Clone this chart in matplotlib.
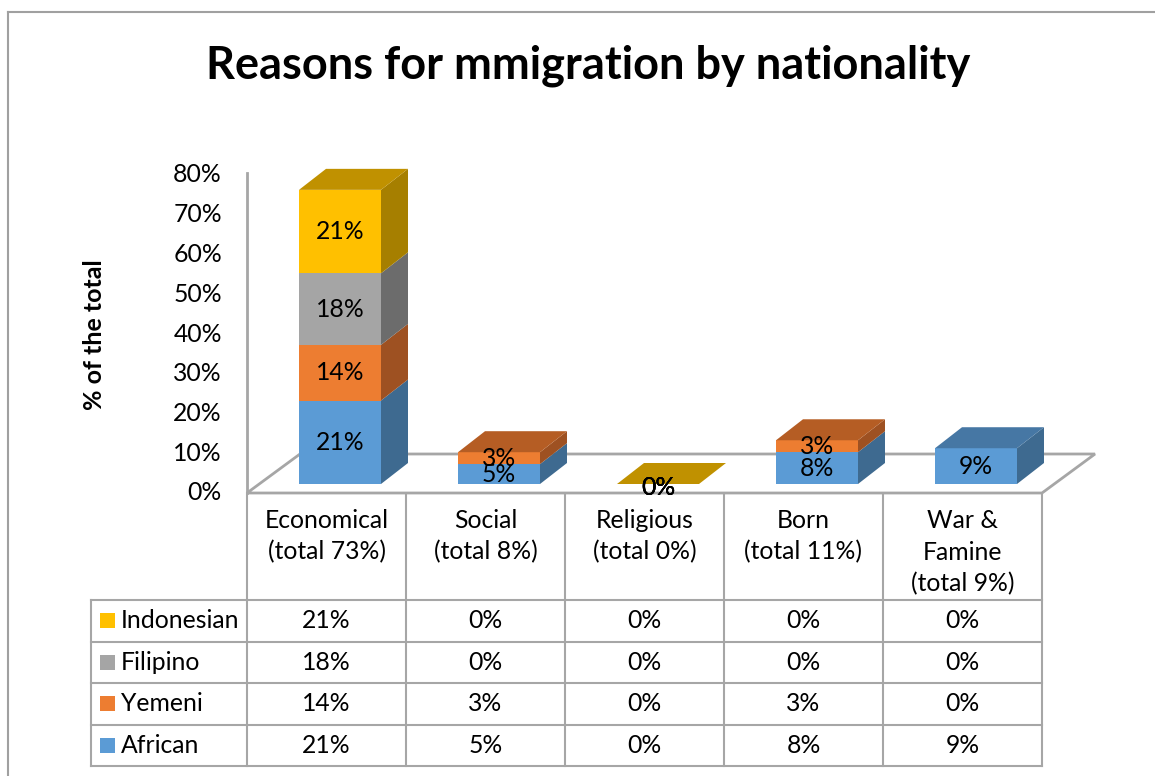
import matplotlib.pyplot as plt
from matplotlib.patches import Polygon, Rectangle

plt.rcParams['font.family'] = ['Lato', 'DejaVu Sans']

# data (percent of total)
categories = ["Economical\n(total 73%)", "Social\n(total 8%)", "Religious\n(total 0%)",
              "Born\n(total 11%)", "War &\nFamine\n(total 9%)"]
series_names = ["African", "Yemeni", "Filipino", "Indonesian"]   # bottom -> top
african = [21, 5, 0, 8, 9]
yemeni = [14, 3, 0, 3, 0]
filipino = [18, 0, 0, 0, 0]
indonesian = [21, 0, 0, 0, 0]
y_ticks = [0, 10, 20, 30, 40, 50, 60, 70, 80]

values = [african, yemeni, filipino, indonesian]
front_col = ["#5B9BD5", "#ED7D31", "#A5A5A5", "#FFC000"]
side_col = ["#3E6A90", "#9E5122", "#6C6C6C", "#A67F00"]
top_col = ["#4677A4", "#B55D24", "#858585", "#C09100"]

W, H = 1155, 776
COL_X0 = 247      # left edge of first category column (px)
COL_W = 159       # column width (px)
Y0 = 493          # 0% on the front plane (px)
PX_PCT = 3.975    # px per percent
GRID = "#A6A6A6"
TXT = 17.8

fig = plt.figure(figsize=(W / 100, H / 100), dpi=100)

# pixel overlay for frame, title and data table
tb = fig.add_axes([0, 0, 1, 1])
tb.set_xlim(0, W)
tb.set_ylim(H, 0)
tb.axis("off")

# chart axes: x in category units, y in percent
ax = fig.add_axes([0, 0, 1, 1], zorder=2)
ax.patch.set_alpha(0)
cx0 = COL_X0 + COL_W / 2
ax.set_xlim(-cx0 / COL_W, (W - cx0) / COL_W)
ax.set_ylim(-(H - Y0) / PX_PCT, Y0 / PX_PCT)
ax.axis("off")

# outer frame
tb.plot([8, W], [12, 12], color="#A0A0A0", lw=1.5)
tb.plot([8, 8], [12, H], color="#A0A0A0", lw=1.5)

fig.text(0.509, 1 - 66 / H, "Reasons for mmigration by nationality",
         ha="center", va="center", fontsize=32.5, fontweight="bold")
fig.text(95 / W, 1 - 335 / H, "% of the total", rotation=90,
         ha="center", va="center", fontsize=18, fontweight="bold")

# floor and vertical axis
n = len(categories)
depth_x, depth_y = 53 / COL_W, 39 / PX_PCT
floor = [(-0.5, 0), (n - 0.5, 0), (n - 0.5 + depth_x, depth_y), (-0.5 + depth_x, depth_y)]
ax.add_patch(Polygon(floor, closed=True, facecolor="white", edgecolor=GRID, lw=2, zorder=1))
ax.plot([-0.5, -0.5], [0, 80.5], color=GRID, lw=2, zorder=1)
for t in y_ticks:
    ax.text(-0.5 - 25 / COL_W, t, f"{t}%", ha="right", va="center", fontsize=TXT)

# 3D stacked columns
bw = 82 / COL_W
fdx, fdy = 13.5 / COL_W, 9 / PX_PCT       # front face offset into the floor
ddx, ddy = 27 / COL_W, 21 / PX_PCT        # bar depth
for i in range(n):
    xc = i + fdx
    xl, xr = xc - bw / 2, xc + bw / 2
    bottom = fdy
    total = sum(v[i] for v in values)
    for s, vals in enumerate(values):
        h = vals[i]
        if h > 0:
            ax.bar(xc, h, width=bw, bottom=bottom, color=front_col[s], zorder=3)
            side = [(xr, bottom), (xr + ddx, bottom + ddy), (xr + ddx, bottom + h + ddy), (xr, bottom + h)]
            ax.add_patch(Polygon(side, closed=True, facecolor=side_col[s], edgecolor="none", zorder=3))
        if h > 0 or total == 0:
            ax.text(xc, bottom + h / 2 - (0.8 if total == 0 else 0), f"{h}%",
                    ha="center", va="center", fontsize=TXT, zorder=5)
        bottom += h
    top_s = max([s for s in range(len(values)) if values[s][i] > 0], default=len(values) - 1)
    top = [(xl, bottom), (xr, bottom), (xr + ddx, bottom + ddy), (xl + ddx, bottom + ddy)]
    ax.add_patch(Polygon(top, closed=True, facecolor=top_col[top_s], edgecolor="none", zorder=4))

# data table
row_top, row_h = 600, 41.5
tab_left = 91
tab_right = COL_X0 + COL_W * n
tab_bottom = row_top + row_h * len(values)
for k in range(n + 1):
    x = COL_X0 + COL_W * k
    tb.plot([x, x], [Y0, tab_bottom], color=GRID, lw=1.5)
tb.plot([tab_left, tab_left], [row_top, tab_bottom], color=GRID, lw=1.5)
for r in range(len(values) + 1):
    y = row_top + row_h * r
    tb.plot([tab_left, tab_right], [y, y], color=GRID, lw=1.5)

for k, cat in enumerate(categories):
    xc = COL_X0 + COL_W * (k + 0.5)
    for j, line in enumerate(cat.split("\n")):
        tb.text(xc, 520 + 32 * j, line, ha="center", va="center", fontsize=TXT)

for r, s in enumerate(reversed(range(len(values)))):
    yc = row_top + row_h * (r + 0.5)
    tb.add_patch(Rectangle((100, yc - 7.5), 15, 15, facecolor=front_col[s], edgecolor="none"))
    tb.text(121, yc, series_names[s], ha="left", va="center", fontsize=TXT)
    for k in range(n):
        tb.text(COL_X0 + COL_W * (k + 0.5), yc, f"{values[s][k]}%",
                ha="center", va="center", fontsize=TXT)

fig.savefig("out.png", dpi=100)
